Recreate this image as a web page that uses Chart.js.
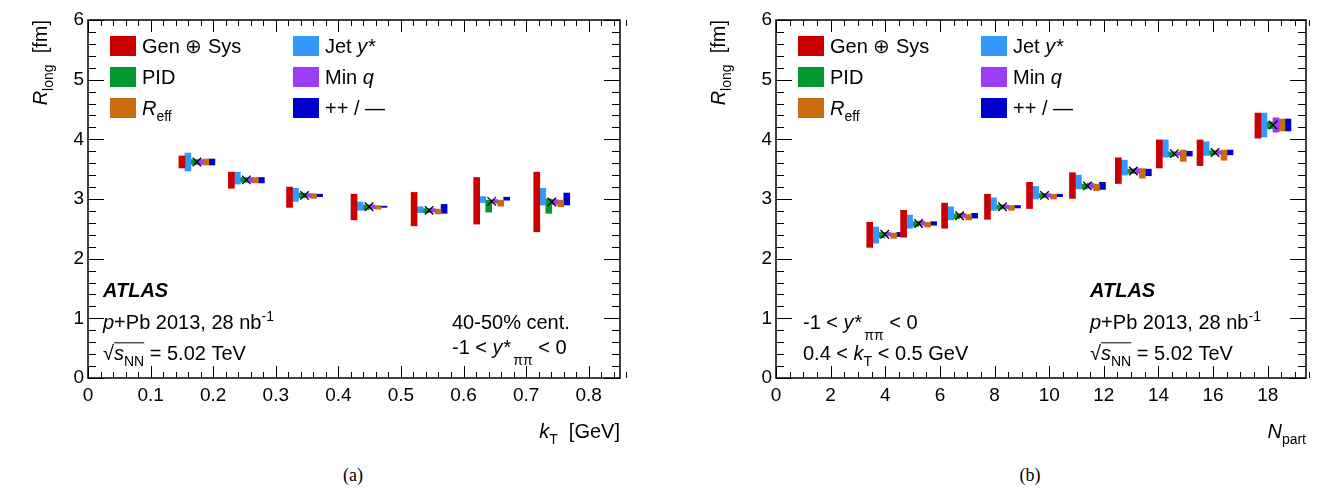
<!DOCTYPE html>
<html>
<head>
<meta charset="utf-8">
<script src="https://cdn.jsdelivr.net/npm/chart.js@4"></script>
<style>
  body { margin: 0; background: #fff; }
  #wrap { position: relative; width: 1320px; height: 498px; overflow: hidden; }
  canvas { position: absolute; top: 0; }
  .cap { position: absolute; top: 465px; width: 100px; text-align: center; font: 18px "Liberation Serif", "Times New Roman", serif; }
</style>
</head>
<body>
<div id="wrap">
  <canvas id="chartA" width="660" height="460" style="left:0;width:660px;height:460px"></canvas>
  <canvas id="chartB" width="660" height="460" style="left:660px;width:660px;height:460px"></canvas>
  <div class="cap" style="left:303px">(a)</div>
  <div class="cap" style="left:980px">(b)</div>
</div>
<script>
const SOURCES = ["Gen ⊕ Sys", "Jet y*", "PID", "Min q", "R_eff", "++ / —"]
const COLORS = ["#cc0000", "#3399ff", "#009a30", "#9d3cf5", "#cc6a10", "#0000cc"]

// (a) R_long vs k_T, 40-50% centrality
const ktValues = [0.174, 0.253, 0.346, 0.449, 0.545, 0.645, 0.741]
const rlongKt = [3.62, 3.32, 3.06, 2.87, 2.81, 2.96, 2.95]
// uncertainties as [down, up]
const ktGenSys = [[0.10, 0.10], [0.14, 0.13], [0.20, 0.14], [0.22, 0.21], [0.26, 0.30], [0.38, 0.40], [0.50, 0.50]]
const ktJetY   = [[0.15, 0.15], [0.07, 0.13], [0.10, 0.12], [0.06, 0.08], [0.04, 0.06], [0.02, 0.08], [0.05, 0.23]]
const ktPid    = [[0.04, 0.04], [0.04, 0.04], [0.04, 0.04], [0.05, 0.03], [0.04, 0.03], [0.18, 0.02], [0.19, 0.05]]
const ktMinQ   = [[0.04, 0.04], [0.04, 0.04], [0.03, 0.03], [0.03, 0.03], [0.03, 0.03], [0.03, 0.03], [0.04, 0.04]]
const ktReff   = [[0.05, 0.05], [0.05, 0.04], [0.05, 0.03], [0.04, 0.02], [0.06, 0.02], [0.08, 0.02], [0.08, 0.03]]
const ktCharge = [[0.05, 0.05], [0.05, 0.04], [0.02, 0.02], [0.01, 0.01], [0.05, 0.10], [-0.02, 0.07], [0.05, 0.15]]

// (b) R_long vs N_part, 0.4 < k_T < 0.5 GeV
const npartValues = [3.98, 5.22, 6.72, 8.29, 9.83, 11.40, 13.08, 14.58, 16.07, 18.19]
const rlongNpart = [2.41, 2.59, 2.72, 2.87, 3.06, 3.22, 3.47, 3.76, 3.78, 4.24]
const npGenSys = [[0.22, 0.20], [0.23, 0.22], [0.21, 0.21], [0.21, 0.21], [0.22, 0.22], [0.21, 0.22], [0.21, 0.22], [0.24, 0.23], [0.22, 0.21], [0.22, 0.20]]
const npJetY   = [[0.15, 0.12], [0.08, 0.14], [0.07, 0.15], [0.06, 0.15], [0.06, 0.15], [0.05, 0.18], [0.07, 0.18], [0.06, 0.23], [0.05, 0.18], [0.20, 0.20]]
const npPid    = [[0.06, 0.03], [0.05, 0.03], [0.05, 0.03], [0.04, 0.03], [0.04, 0.03], [0.05, 0.03], [0.04, 0.03], [0.05, 0.03], [0.04, 0.03], [0.06, 0.05]]
const npMinQ   = [[0.03, 0.03], [0.03, 0.04], [0.03, 0.04], [0.03, 0.03], [0.03, 0.03], [0.04, 0.05], [0.04, 0.04], [0.03, 0.03], [0.03, 0.03], [0.12, 0.12]]
const npReff   = [[0.07, 0.02], [0.06, 0.02], [0.07, 0.02], [0.06, 0.02], [0.06, 0.02], [0.08, 0.03], [0.12, 0.04], [0.13, 0.06], [0.13, 0.04], [0.10, 0.10]]
const npCharge = [[0.04, 0.03], [0.03, 0.03], [0.04, 0.04], [0.02, 0.02], [0.02, 0.02], [0.06, 0.06], [0.08, 0.03], [0.04, 0.04], [0.04, 0.04], [0.10, 0.10]]

const FONT = '"Liberation Sans", Arial, sans-serif'
const TXT = 20

const LEGEND_TEXT = [
  [{ t: "Gen ⊕ Sys" }],
  [{ t: "Jet " }, { t: "y*", i: 1 }],
  [{ t: "PID" }],
  [{ t: "Min " }, { t: "q", i: 1 }],
  [{ t: "R", i: 1 }, { t: "eff", sub: 1 }],
  [{ t: "++ / —" }]
]

function fontOf(s, size) {
  return (s.i ? "italic " : "") + (s.b ? "bold " : "") + size + "px " + FONT
}

function drawRich(ctx, segs, x, y, size, align) {
  let total = 0
  const parts = segs.map(s => {
    const sz = (s.sub || s.sup) ? Math.round(size * 0.7) : size
    ctx.font = fontOf(s, sz)
    const w = ctx.measureText(s.t).width + (s.dx || 0)
    total += w
    return { s, sz, w }
  })
  let cx = align === "right" ? x - total : x
  ctx.textAlign = "left"
  ctx.textBaseline = "alphabetic"
  parts.forEach(({ s, sz, w }) => {
    ctx.font = fontOf(s, sz)
    const dy = (s.sub ? size * 0.3 : s.sup ? -size * 0.4 : 0) + (s.dy || 0)
    ctx.fillText(s.t, cx + (s.dx || 0), y + dy)
    if (s.over) {
      ctx.beginPath()
      ctx.lineWidth = 1
      ctx.moveTo(cx, y - size * 0.86)
      ctx.lineTo(cx + w, y - size * 0.86)
      ctx.stroke()
    }
    cx += w
  })
}

function makeDecor(cfg) {
  return {
    id: "decor",
    afterDatasetsDraw(chart) {
      const ctx = chart.ctx
      const a = chart.chartArea
      const xs = chart.scales.x
      const ys = chart.scales.y
      ctx.save()
      ctx.strokeStyle = "#000"
      ctx.fillStyle = "#000"
      ctx.lineWidth = 1

      // inward ROOT-style ticks on all four sides
      ctx.beginPath()
      const nx = Math.round(cfg.xMax / cfg.xMinor)
      for (let i = 0; i <= nx; i++) {
        const v = i * cfg.xMinor
        const major = Math.abs(v / cfg.xMajor - Math.round(v / cfg.xMajor)) < 1e-6
        const len = major ? 12 : 6
        const px = Math.round(xs.getPixelForValue(v)) + 0.5
        ctx.moveTo(px, a.bottom); ctx.lineTo(px, a.bottom - len)
        ctx.moveTo(px, a.top); ctx.lineTo(px, a.top + len)
      }
      for (let i = 0; i <= 30; i++) {
        const v = i * 0.2
        const major = i % 5 === 0
        const len = major ? 16 : 8
        const py = Math.round(ys.getPixelForValue(v)) + 0.5
        ctx.moveTo(a.left, py); ctx.lineTo(a.left + len, py)
        ctx.moveTo(a.right, py); ctx.lineTo(a.right - len, py)
      }
      ctx.stroke()
      ctx.lineWidth = 1.5
      ctx.strokeRect(a.left, a.top, a.right - a.left, a.bottom - a.top)

      // legend in two columns
      chart.data.datasets.slice(0, SOURCES.length).forEach((ds, k) => {
        const col = k % 2
        const row = Math.floor(k / 2)
        const bx = a.left + 22 + col * 183
        const by = a.top + 26 + row * 31
        ctx.fillStyle = ds.backgroundColor
        ctx.fillRect(bx, by - 10, 26, 20)
        ctx.fillStyle = "#000"
        drawRich(ctx, LEGEND_TEXT[k], bx + 32, by + 7, TXT)
      })

      // annotation texts
      cfg.texts.forEach(tx => drawRich(ctx, tx.segs, a.left + tx.dx, a.top + tx.dy, TXT, tx.align))

      // axis titles
      drawRich(ctx, cfg.xTitle, a.right, a.bottom + 60, TXT, "right")
      ctx.save()
      ctx.translate(a.left + cfg.yTitleDx, a.top)
      ctx.rotate(-Math.PI / 2)
      drawRich(ctx, [{ t: "R", i: 1 }, { t: "long", sub: 1 }, { t: "  [fm]" }], 0, 0, TXT, "right")
      ctx.restore()
      ctx.restore()
    }
  }
}

const ATLAS = [{ t: "ATLAS", i: 1, b: 1 }]
const LUMI = [{ t: "p", i: 1 }, { t: "+Pb 2013, 28 nb" }, { t: "-1", sup: 1 }]
const SQRTS = [{ t: "√" }, { t: "s", i: 1, over: 1 }, { t: "NN", sub: 1, over: 1 }, { t: " = 5.02 TeV" }]
const YSTAR = [{ t: "-1 < " }, { t: "y*", i: 1 }, { t: "ππ", sub: 1, dy: 5, dx: 3 }, { t: " < 0" }]
const fmt = v => Number(v.toFixed(2)).toString()

function buildPanel(id, p) {
  const errs = p.errs
  const datasets = SOURCES.map((name, k) => ({
    type: "bar",
    label: name,
    data: p.x.map((xv, i) => ({ x: xv, y: [p.y[i] - errs[k][i][0], p.y[i] + errs[k][i][1]] })),
    backgroundColor: COLORS[k],
    borderWidth: 0,
    barThickness: 6,
    order: 1
  }))
  datasets.push({
    type: "scatter",
    label: "R_long",
    data: p.x.map((xv, i) => ({ x: xv, y: p.y[i] })),
    pointStyle: "crossRot",
    pointRadius: 6,
    borderColor: "#000",
    backgroundColor: "#000",
    borderWidth: 1.3,
    order: 0
  })

  new Chart(document.getElementById(id), {
    type: "bar",
    data: { datasets },
    options: {
      responsive: false,
      animation: false,
      devicePixelRatio: 1,
      layout: { padding: { left: 0, top: 20, right: p.padRight, bottom: 0 } },
      plugins: { legend: { display: false }, tooltip: { enabled: false } },
      scales: {
        x: {
          type: "linear", min: 0, max: p.xMax, offset: false,
          grid: { display: false, drawTicks: false, offset: false },
          border: { display: false },
          ticks: {
            stepSize: p.xMajor, includeBounds: false, autoSkip: false, maxRotation: 0,
            color: "#000", font: { family: FONT, size: 19 }, padding: 6, callback: fmt
          },
          afterFit: s => { s.height = 82 }
        },
        y: {
          type: "linear", min: 0, max: 6,
          grid: { display: false, drawTicks: false },
          border: { display: false },
          ticks: { stepSize: 1, color: "#000", font: { family: FONT, size: 19 }, padding: 4 },
          afterFit: s => { s.width = p.yWidth }
        }
      }
    },
    plugins: [makeDecor(p)]
  })
}

buildPanel("chartA", {
  x: ktValues, y: rlongKt,
  errs: [ktGenSys, ktJetY, ktPid, ktMinQ, ktReff, ktCharge],
  xMax: 0.85, xMajor: 0.1, xMinor: 0.02, yWidth: 88, padRight: 40, yTitleDx: -41,
  xTitle: [{ t: "k", i: 1 }, { t: "T", sub: 1 }, { t: "  [GeV]" }],
  texts: [
    { segs: ATLAS, dx: 15, dy: 277 },
    { segs: LUMI, dx: 15, dy: 309 },
    { segs: SQRTS, dx: 15, dy: 340 },
    { segs: [{ t: "40-50% cent." }], dx: 364, dy: 309 },
    { segs: YSTAR, dx: 364, dy: 334 }
  ]
})

buildPanel("chartB", {
  x: npartValues, y: rlongNpart,
  errs: [npGenSys, npJetY, npPid, npMinQ, npReff, npCharge],
  xMax: 19.4, xMajor: 2, xMinor: 0.5, yWidth: 116, padRight: 14, yTitleDx: -51,
  xTitle: [{ t: "N", i: 1 }, { t: "part", sub: 1 }],
  texts: [
    { segs: YSTAR, dx: 27, dy: 309 },
    { segs: [{ t: "0.4 < " }, { t: "k", i: 1 }, { t: "T", sub: 1 }, { t: " < 0.5 GeV" }], dx: 27, dy: 340 },
    { segs: ATLAS, dx: 314, dy: 277 },
    { segs: LUMI, dx: 314, dy: 309 },
    { segs: SQRTS, dx: 314, dy: 340 }
  ]
})
</script>
</body>
</html>
